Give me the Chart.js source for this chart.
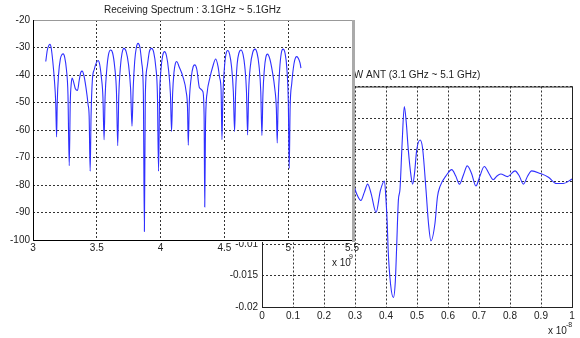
<!DOCTYPE html>
<html>
<head>
<meta charset="utf-8">
<script src="https://cdn.jsdelivr.net/npm/chart.js@4.4.1/dist/chart.umd.min.js"></script>
<style>
  body { margin: 0; background: #fff; }
  #wrap { position: relative; width: 580px; height: 338px; }
  canvas { position: absolute; left: 0; top: 0; }
</style>
</head>
<body>
<div id="wrap">
  <canvas id="pulse" width="580" height="338"></canvas>
  <canvas id="spectrum" width="580" height="338"></canvas>
</div>
<script>
// receiving spectrum, frequency in units of 1e9 Hz, level in dB
const specFreq = [
  3.100, 3.112, 3.125, 3.133, 3.142, 3.155, 3.168, 3.178, 3.185, 3.190,
  3.200, 3.215, 3.228, 3.237, 3.248, 3.262, 3.274, 3.284, 3.292, 3.300,
  3.307, 3.318, 3.332, 3.349, 3.362, 3.375, 3.385, 3.398, 3.415, 3.432,
  3.440, 3.448, 3.455, 3.465, 3.480, 3.496, 3.510, 3.522, 3.535, 3.548,
  3.557, 3.565, 3.578, 3.592, 3.609, 3.624, 3.640, 3.654, 3.664, 3.672,
  3.685, 3.698, 3.713, 3.730, 3.748, 3.765, 3.776, 3.785, 3.797, 3.810,
  3.823, 3.838, 3.852, 3.865, 3.873, 3.880, 3.895, 3.912, 3.930, 3.946,
  3.962, 3.975, 3.984, 3.992, 4.003, 4.016, 4.031, 4.046, 4.062, 4.077,
  4.086, 4.094, 4.105, 4.116, 4.127, 4.145, 4.174, 4.200, 4.211, 4.217,
  4.225, 4.240, 4.255, 4.268, 4.284, 4.305, 4.331, 4.341, 4.346, 4.352,
  4.366, 4.383, 4.409, 4.432, 4.450, 4.463, 4.474, 4.481, 4.488, 4.499,
  4.512, 4.526, 4.541, 4.556, 4.570, 4.580, 4.588, 4.600, 4.614, 4.630,
  4.646, 4.660, 4.673, 4.682, 4.690, 4.703, 4.722, 4.740, 4.756, 4.771,
  4.785, 4.794, 4.802, 4.813, 4.825, 4.838, 4.855, 4.875, 4.895, 4.907,
  4.914, 4.921, 4.933, 4.946, 4.960, 4.975, 4.990, 5.001, 5.008, 5.015,
  5.028, 5.045, 5.058, 5.068, 5.080, 5.092, 5.100
];
const specDb = [
  -35.1, -31.0, -29.2, -28.8, -30.0, -35.0, -42.0, -50.0, -62.5, -50.0,
  -40.0, -34.0, -32.5, -32.3, -33.5, -38.0, -47.0, -73.0, -50.0, -43.0,
  -41.1, -42.5, -45.0, -45.6, -42.0, -39.0, -38.6, -40.0, -44.5, -50.8,
  -55.0, -75.0, -55.0, -42.0, -38.0, -35.6, -34.7, -36.0, -40.5, -48.0,
  -63.5, -48.0, -38.0, -32.5, -30.9, -32.0, -37.0, -46.0, -65.7, -48.0,
  -37.0, -32.0, -30.3, -31.5, -36.0, -45.0, -58.6, -45.0, -35.0, -30.0,
  -28.5, -30.0, -35.5, -47.0, -96.9, -48.0, -37.0, -31.5, -30.3, -31.8,
  -37.0, -47.0, -75.0, -48.0, -38.0, -33.0, -31.5, -33.0, -38.0, -47.0,
  -60.5, -47.0, -39.0, -35.8, -35.1, -37.0, -40.5, -46.0, -52.0, -65.5,
  -50.0, -41.0, -37.0, -36.3, -38.0, -44.7, -46.0, -55.0, -88.0, -58.0,
  -46.0, -41.7, -36.9, -34.2, -36.9, -41.0, -45.4, -63.5, -48.0, -38.0,
  -32.5, -31.1, -32.5, -37.0, -46.0, -60.5, -46.0, -36.0, -32.0, -30.9,
  -32.5, -37.0, -46.0, -61.8, -46.0, -37.0, -31.8, -30.6, -32.0, -36.5,
  -46.0, -62.0, -47.0, -38.0, -33.5, -32.4, -34.0, -38.5, -45.0, -52.0,
  -64.7, -50.0, -38.0, -32.0, -30.6, -32.0, -38.0, -50.0, -74.0, -52.0,
  -43.0, -36.0, -33.6, -33.3, -34.0, -35.5, -37.5
];
const specXTicks = [3, 3.5, 4, 4.5, 5, 5.5];
const specYTicks = [-100, -90, -80, -70, -60, -50, -40, -30, -20];

// received pulse, time in units of 1e-8 s
const pulseTime = [
  0.290, 0.295, 0.305, 0.319, 0.330, 0.341, 0.352, 0.368, 0.382, 0.395,
  0.400, 0.404, 0.407, 0.415, 0.424, 0.430, 0.434, 0.440, 0.445, 0.452,
  0.459, 0.465, 0.472, 0.481, 0.486, 0.492, 0.499, 0.510, 0.518, 0.529,
  0.537, 0.545, 0.558, 0.566, 0.574, 0.596, 0.612, 0.625, 0.637, 0.650,
  0.662, 0.676, 0.690, 0.703, 0.717, 0.732, 0.746, 0.758, 0.770, 0.792,
  0.816, 0.830, 0.843, 0.857, 0.870, 0.897, 0.924, 0.950, 0.972, 1.000
];
const pulseAmp = [
  -0.0004, -0.0006, -0.0020, -0.0031, -0.0018, -0.0005, -0.0020, -0.0050, -0.0015, 0.0000,
  -0.0030, -0.0067, -0.0110, -0.0165, -0.0185, -0.0160, -0.0110, -0.0030, -0.0014, 0.0060,
  0.0118, 0.0095, 0.0049, 0.0007, -0.0005, 0.0012, 0.0049, 0.0065, 0.0052, -0.0014,
  -0.0067, -0.0095, -0.0067, -0.0025, -0.0009, 0.0010, 0.0018, 0.0008, -0.0005, 0.0010,
  0.0024, 0.0012, -0.0008, 0.0008, 0.0023, 0.0012, 0.0002, 0.0008, 0.0011, 0.0007,
  0.0016, 0.0008, -0.0005, 0.0008, 0.0016, 0.0012, 0.0006, -0.0004, -0.0004, 0.0003
];
const pulseXTicks = [0, 0.1, 0.2, 0.3, 0.4, 0.5, 0.6, 0.7, 0.8, 0.9, 1];
const pulseYTicks = [-0.02, -0.015, -0.01, -0.005, 0, 0.005, 0.01, 0.015];

const FONT = "'Liberation Sans', Arial, sans-serif";
const LINE = '#2f2fff';

function gridOpts() {
  return {
    grid: { color: '#333', lineWidth: 1, drawTicks: false },
    border: { display: false, dash: [2, 2] }
  };
}
function tickFont() {
  return { family: FONT, size: 10 };
}

// right window: received pulse, drawn first (behind)
const pulseFrame = {
  id: 'pulseFrame',
  afterDraw(chart) {
    const { ctx, chartArea: a } = chart;
    ctx.save();
    ctx.strokeStyle = '#222';
    ctx.lineWidth = 1;
    ctx.strokeRect(a.left + 0.5, a.top + 0.5, a.right - a.left, a.bottom - a.top);
    ctx.fillStyle = '#222';
    ctx.font = '10px ' + FONT;
    ctx.textAlign = 'center';
    ctx.textBaseline = 'middle';
    ctx.fillText('W ANT (3.1 GHz ~ 5.1 GHz)', (a.left + a.right) / 2, 75);
    ctx.textAlign = 'left';
    ctx.textBaseline = 'alphabetic';
    ctx.fillText('x 10', 548, 334);
    ctx.font = '7px ' + FONT;
    ctx.fillText('-8', 566, 327);
    ctx.restore();
  }
};

new Chart(document.getElementById('pulse'), {
  type: 'line',
  data: {
    datasets: [{
      data: pulseTime.map((t, i) => ({ x: t, y: pulseAmp[i] })),
      borderColor: LINE,
      borderWidth: 1.1,
      pointRadius: 0,
      cubicInterpolationMode: 'monotone'
    }]
  },
  options: {
    responsive: false,
    animation: false,
    layout: { padding: { top: 86.5, right: 8, left: 0, bottom: 0 } },
    plugins: { legend: { display: false }, tooltip: { enabled: false } },
    scales: {
      x: {
        type: 'linear', min: 0, max: 1,
        ...gridOpts(),
        afterBuildTicks: s => { s.ticks = pulseXTicks.map(v => ({ value: v })); },
        afterFit: s => { s.height = 31; },
        ticks: { font: tickFont(), color: '#222', padding: 3, maxRotation: 0, autoSkip: false,
                 callback: v => String(+v.toFixed(1)) }
      },
      y: {
        type: 'linear', min: -0.02, max: 0.015,
        ...gridOpts(),
        afterBuildTicks: s => { s.ticks = pulseYTicks.map(v => ({ value: v })); },
        afterFit: s => { s.width = 262; },
        ticks: { font: tickFont(), color: '#222', padding: 4, autoSkip: false,
                 callback: v => String(+v.toFixed(3)) }
      }
    }
  },
  plugins: [pulseFrame]
});

// left window: receiving spectrum, on top
const spectrumFrame = {
  id: 'spectrumFrame',
  beforeDraw(chart) {
    const ctx = chart.ctx;
    ctx.save();
    ctx.fillStyle = '#fff';
    ctx.fillRect(0, 0, 355, 242);
    ctx.restore();
  },
  afterDraw(chart) {
    const { ctx, chartArea: a } = chart;
    ctx.save();
    ctx.lineWidth = 1;
    ctx.strokeStyle = '#999';
    ctx.beginPath();
    ctx.moveTo(a.left, a.top + 0.5);
    ctx.lineTo(a.right, a.top + 0.5);
    ctx.stroke();
    ctx.strokeStyle = '#000';
    ctx.beginPath();
    ctx.moveTo(a.left + 0.5, a.top);
    ctx.lineTo(a.left + 0.5, a.bottom + 0.5);
    ctx.lineTo(a.right, a.bottom + 0.5);
    ctx.stroke();
    ctx.strokeStyle = '#aaa';
    ctx.lineWidth = 3;
    ctx.beginPath();
    ctx.moveTo(a.right + 1.5, a.top);
    ctx.lineTo(a.right + 1.5, a.bottom + 2);
    ctx.stroke();
    ctx.fillStyle = '#222';
    ctx.font = '10px ' + FONT;
    ctx.textAlign = 'center';
    ctx.textBaseline = 'middle';
    ctx.fillText('Receiving Spectrum : 3.1GHz ~ 5.1GHz', (a.left + a.right) / 2, 10);
    ctx.textAlign = 'left';
    ctx.textBaseline = 'alphabetic';
    ctx.fillText('x 10', 332, 266);
    ctx.font = '7px ' + FONT;
    ctx.fillText('9', 349, 259);
    ctx.restore();
  }
};

new Chart(document.getElementById('spectrum'), {
  type: 'line',
  data: {
    datasets: [{
      data: specFreq.map((f, i) => ({ x: f, y: specDb[i] })),
      borderColor: LINE,
      borderWidth: 1.1,
      pointRadius: 0,
      cubicInterpolationMode: 'monotone'
    }]
  },
  options: {
    responsive: false,
    animation: false,
    layout: { padding: { top: 20, right: 228, left: 0, bottom: 0 } },
    plugins: { legend: { display: false }, tooltip: { enabled: false } },
    scales: {
      x: {
        type: 'linear', min: 3, max: 5.5,
        ...gridOpts(),
        afterBuildTicks: s => { s.ticks = specXTicks.map(v => ({ value: v })); },
        afterFit: s => { s.height = 98; },
        ticks: { font: tickFont(), color: '#222', padding: 2, maxRotation: 0, autoSkip: false,
                 callback: v => String(+v.toFixed(1)) }
      },
      y: {
        type: 'linear', min: -100, max: -20,
        ...gridOpts(),
        afterBuildTicks: s => { s.ticks = specYTicks.map(v => ({ value: v })); },
        afterFit: s => { s.width = 33; },
        ticks: { font: tickFont(), color: '#222', padding: 3, autoSkip: false }
      }
    }
  },
  plugins: [spectrumFrame]
});
</script>
</body>
</html>
